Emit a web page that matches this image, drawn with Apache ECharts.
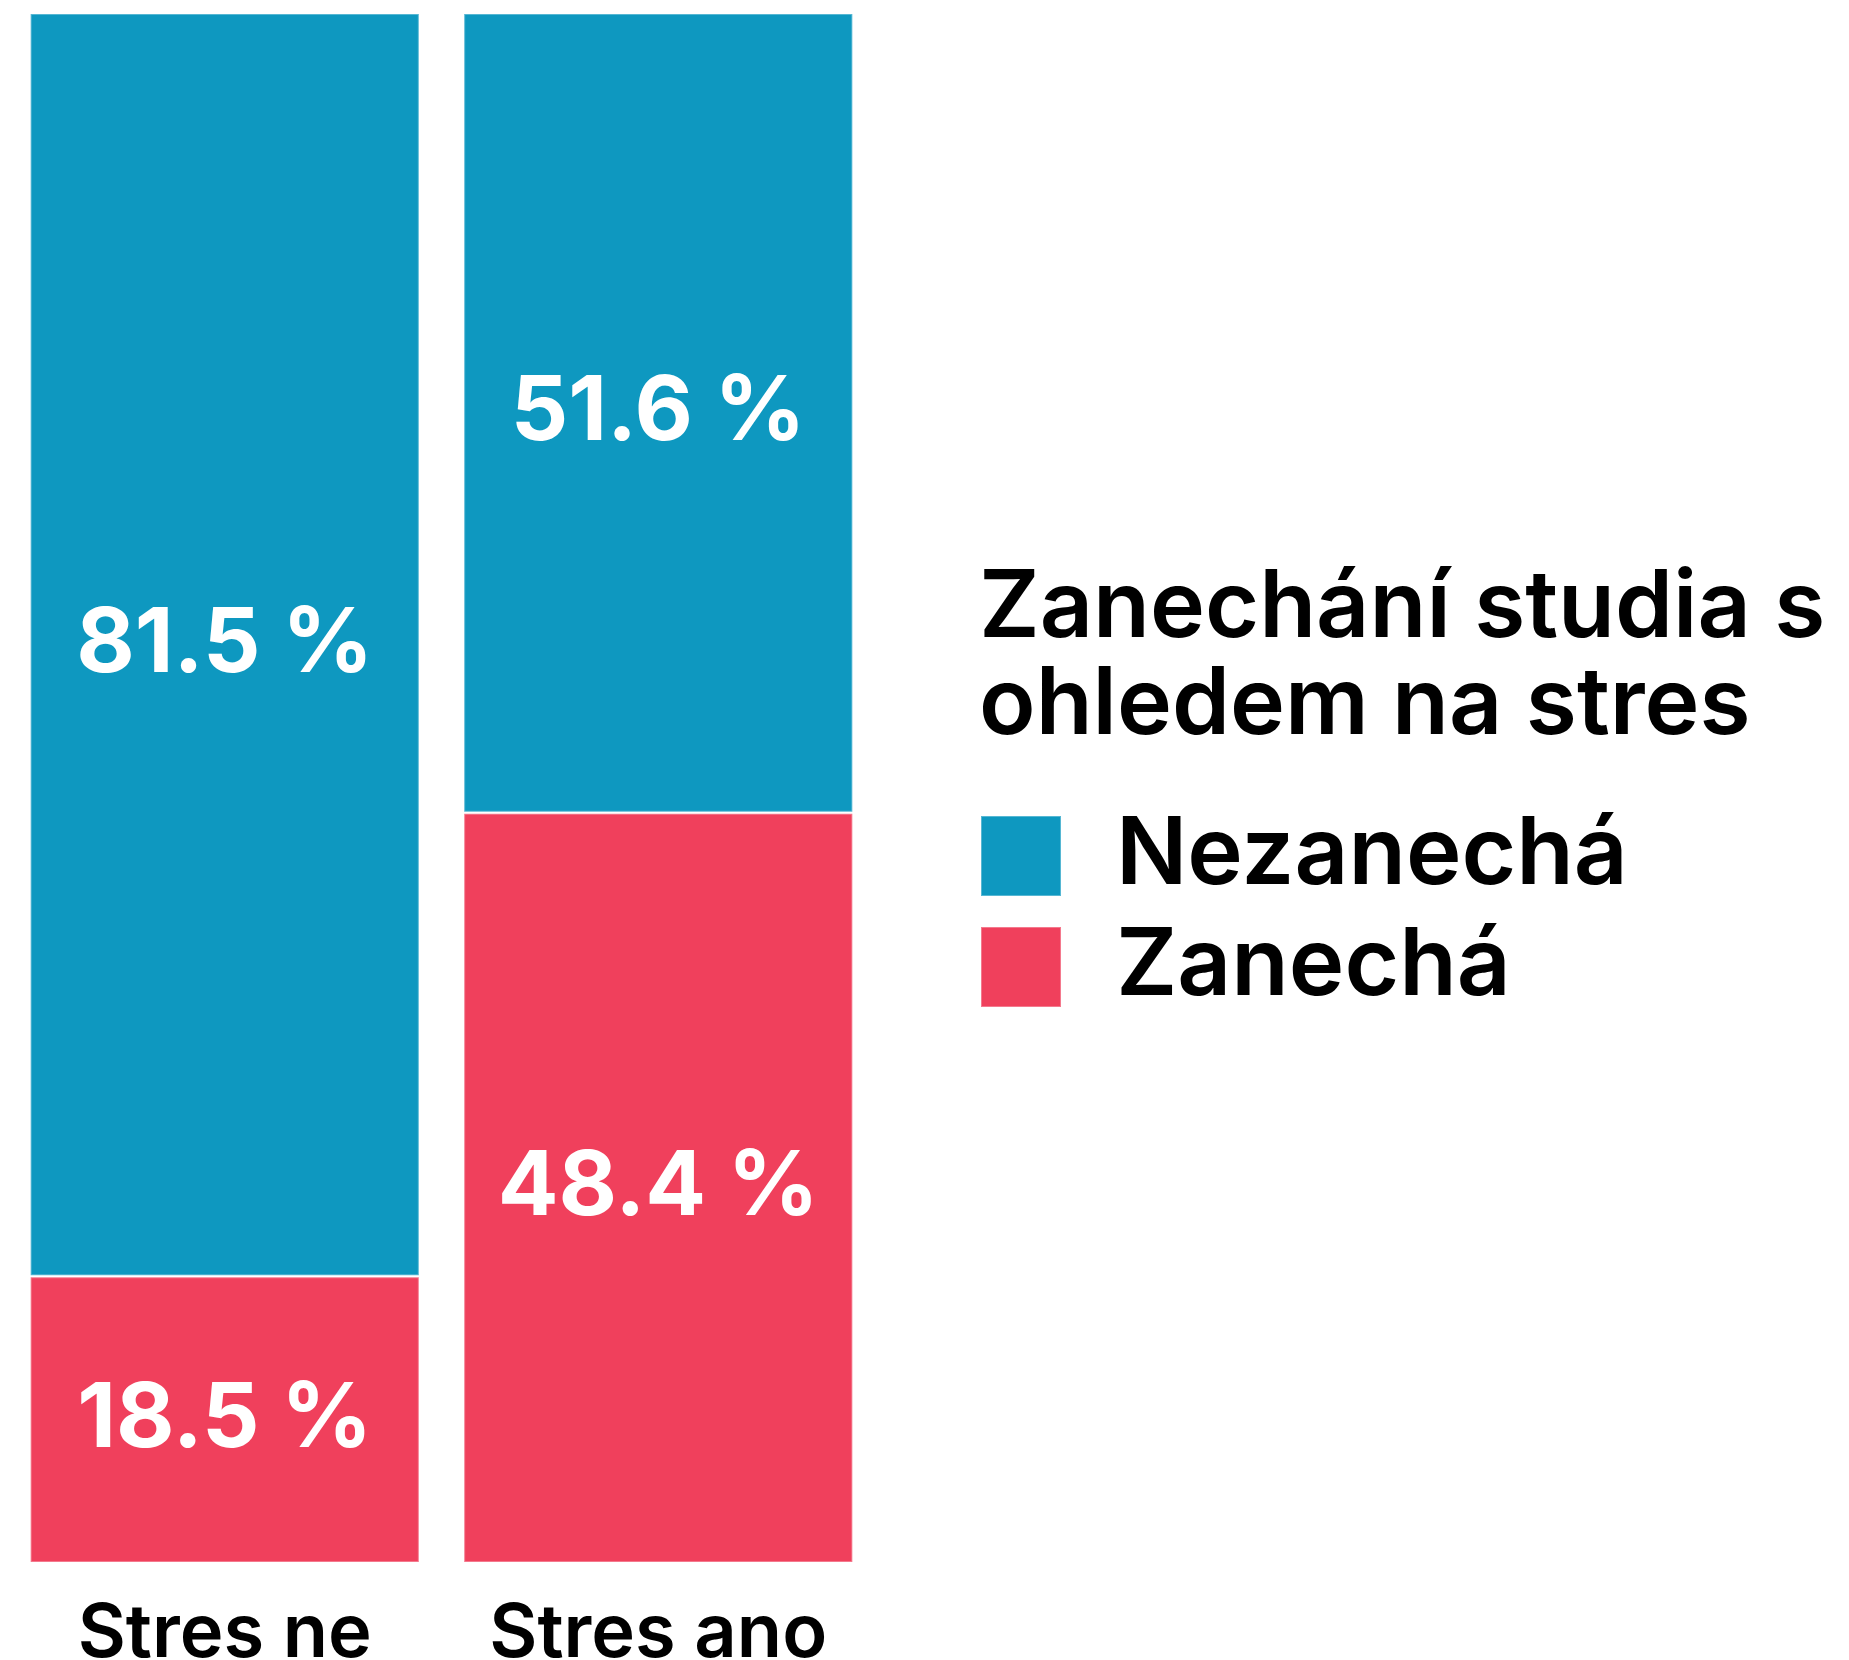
<!DOCTYPE html>
<html>
<head>
<meta charset="utf-8">
<script src="https://cdn.jsdelivr.net/npm/echarts@6/dist/echarts.min.js"></script>
<style>
  html, body { margin: 0; padding: 0; background: #fff; }
  #chart { width: 1849px; height: 1660px; }
</style>
</head>
<body>
<div id="chart"></div>
<script>
var categories = ['Stres ne', 'Stres ano'];
var nezanecha = [81.5, 51.6];
var zanecha = [18.5, 48.4];
var legendTitle = 'Zanechání studia s\nohledem na stres';

var myChart = echarts.init(document.getElementById('chart'));

var barLabel = {
	show: true,
	position: 'inside',
	color: '#fff',
	fontFamily: 'Inter',
	fontWeight: 700,
	fontSize: 90,
	formatter: function (p) { return p.value.toFixed(1) + ' %'; }
};

var option = {
	animation: false,
	title: {
		text: legendTitle,
		left: 974,
		top: 556,
		textStyle: {
			fontFamily: 'Inter',
			fontWeight: 600,
			fontSize: 93,
			lineHeight: 97,
			color: '#000'
		}
	},
	legend: {
		orient: 'vertical',
		left: 975,
		top: 804,
		itemWidth: 80,
		itemHeight: 80,
		itemGap: 17,
		icon: 'rect',
		data: ['Nezanechá', 'Zanechá'],
		textStyle: {
			fontFamily: 'Inter',
			fontWeight: 600,
			fontSize: 94,
			color: '#000',
			padding: [0, 0, 0, 50]
		}
	},
	grid: {
		left: 8,
		width: 867,
		top: 13,
		bottom: 97,
		outerBoundsMode: 'none'
	},
	xAxis: {
		type: 'category',
		data: categories,
		axisLine: { show: false },
		axisTick: { show: false },
		axisLabel: {
			interval: 0,
			margin: 35,
			fontFamily: 'Inter',
			fontWeight: 600,
			fontSize: 74,
			color: '#000'
		}
	},
	yAxis: {
		type: 'value',
		min: 0,
		max: 100,
		show: false
	},
	series: [
		{
			name: 'Zanechá',
			type: 'bar',
			stack: 'total',
			barCategoryGap: '10%',
			data: zanecha,
			itemStyle: { color: '#F0405C', borderColor: 'rgba(255,255,255,0.3)', borderWidth: 2 },
			label: barLabel
		},
		{
			name: 'Nezanechá',
			type: 'bar',
			stack: 'total',
			barCategoryGap: '10%',
			data: nezanecha,
			itemStyle: { color: '#0E98C0', borderColor: 'rgba(255,255,255,0.3)', borderWidth: 2 },
			label: barLabel
		}
	]
};
myChart.setOption(option);
</script>
</body>
</html>
